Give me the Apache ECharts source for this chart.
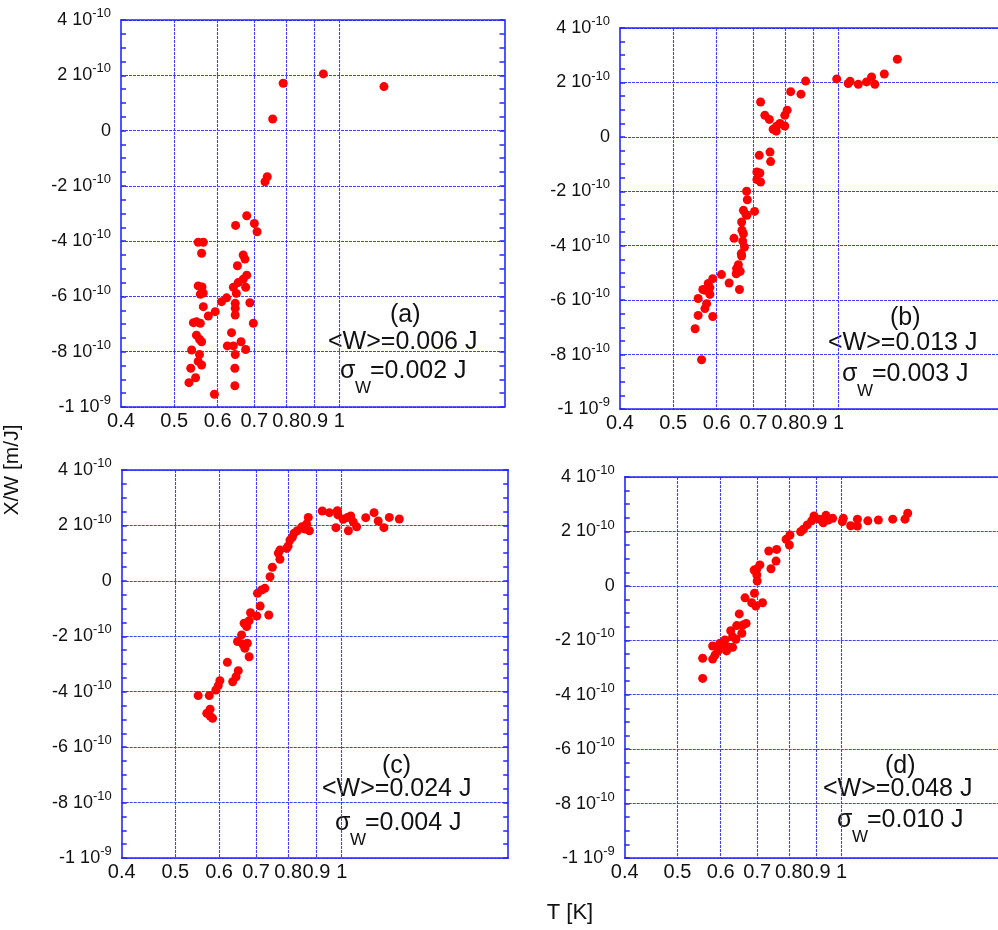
<!DOCTYPE html>
<html>
<head>
<meta charset="utf-8">
<script src="https://cdn.jsdelivr.net/npm/echarts@6/dist/echarts.min.js"></script>
<style>
  html, body { margin: 0; padding: 0; background: #fff; }
  #main { width: 998px; height: 930px; }
</style>
</head>
<body>
<div id="main"></div>
<script>
// X/W values are in units of 1e-10 m/J, T in K
// panel (a)
var tA = [0.935, 0.790, 1.206, 0.756, 0.739, 0.732, 0.678, 0.647, 0.700, 0.708,
    0.553, 0.565, 0.561, 0.668, 0.673, 0.652, 0.678, 0.668, 0.654, 0.641,
    0.675, 0.649, 0.553, 0.562, 0.558, 0.565, 0.623, 0.610, 0.687, 0.646,
    0.565, 0.594, 0.577, 0.646, 0.646, 0.542, 0.549, 0.558, 0.697, 0.549,
    0.556, 0.561, 0.636, 0.625, 0.641, 0.662, 0.538, 0.675, 0.646, 0.556,
    0.553, 0.561, 0.536, 0.645, 0.547, 0.532, 0.645, 0.592];
var xwA = [2.05, 1.71, 1.59, 0.42, -1.67, -1.85, -3.08, -3.43, -3.36, -3.66,
    -4.04, -4.04, -4.44, -4.50, -4.65, -4.89, -5.23, -5.38, -5.50, -5.67,
    -5.67, -5.89, -5.62, -5.66, -5.92, -5.88, -6.05, -6.19, -6.23, -6.25,
    -6.37, -6.55, -6.71, -6.43, -6.67, -6.95, -6.92, -6.97, -6.97, -7.40,
    -7.55, -7.64, -7.31, -7.79, -7.79, -7.64, -7.94, -7.92, -8.10, -8.10,
    -8.35, -8.48, -8.60, -8.60, -8.94, -9.12, -9.23, -9.54];
// panel (b)
var tB = [1.279, 1.211, 1.148, 1.164, 1.124, 1.086, 1.049, 1.041, 0.992, 0.871,
    0.818, 0.854, 0.721, 0.806, 0.798, 0.734, 0.748, 0.782, 0.798, 0.771,
    0.760, 0.770, 0.750, 0.717, 0.752, 0.710, 0.719, 0.710, 0.721, 0.680,
    0.682, 0.703, 0.671, 0.678, 0.681, 0.666, 0.667, 0.671, 0.669, 0.674,
    0.665, 0.666, 0.645, 0.657, 0.652, 0.655, 0.651, 0.662, 0.612, 0.632,
    0.660, 0.590, 0.579, 0.583, 0.571, 0.566, 0.583, 0.555, 0.575, 0.571,
    0.555, 0.590, 0.548, 0.563];
var xwB = [2.85, 2.31, 2.20, 1.93, 2.02, 1.93, 2.04, 1.96, 2.13, 2.05,
    1.66, 1.57, 1.28, 0.98, 0.79, 0.79, 0.64, 0.49, 0.40, 0.39,
    0.28, 0.21, -0.56, -0.68, -0.91, -1.29, -1.33, -1.57, -1.66, -2.00,
    -2.31, -2.74, -2.70, -2.85, -2.88, -3.13, -3.43, -3.56, -3.83, -4.05,
    -4.29, -4.38, -3.73, -4.70, -4.84, -4.97, -5.03, -4.94, -5.06, -5.37,
    -5.61, -5.21, -5.39, -5.54, -5.64, -5.61, -5.79, -5.94, -6.13, -6.31,
    -6.56, -6.60, -7.05, -8.19];
// panel (c)
var tC = [0.922, 0.950, 0.982, 0.984, 0.976, 1.006, 1.024, 1.028, 1.038, 1.049,
    1.064, 1.105, 1.144, 1.164, 1.192, 1.219, 1.271, 0.870, 0.864, 0.874,
    0.858, 0.847, 0.831, 0.820, 0.814, 0.806, 0.800, 0.795, 0.773, 0.768,
    0.773, 0.749, 0.742, 0.726, 0.716, 0.704, 0.712, 0.702, 0.738, 0.684,
    0.680, 0.666, 0.673, 0.659, 0.648, 0.662, 0.675, 0.668, 0.680, 0.650,
    0.644, 0.635, 0.621, 0.602, 0.598, 0.592, 0.576, 0.550, 0.570, 0.578,
    0.584, 0.578];
var xwC = [2.52, 2.46, 2.53, 2.38, 1.92, 2.22, 2.29, 1.81, 2.34, 2.13,
    1.95, 2.28, 2.46, 2.16, 1.92, 2.29, 2.23, 2.29, 2.05, 1.81,
    1.87, 1.95, 1.81, 1.72, 1.57, 1.47, 1.26, 1.17, 1.11, 1.00,
    0.78, 0.49, 0.15, -0.27, -0.33, -0.45, -0.91, -1.27, -1.23, -1.15,
    -1.44, -1.53, -1.65, -1.95, -2.19, -2.28, -2.25, -2.43, -2.74, -3.24,
    -3.46, -3.64, -2.94, -3.60, -3.78, -3.94, -4.14, -4.14, -4.78, -4.88,
    -4.96, -4.63];
// panel (d)
var tD = [1.322, 1.307, 1.241, 1.168, 1.117, 1.069, 1.069, 1.039, 1.007, 1.003,
    0.963, 0.945, 0.936, 0.925, 0.910, 0.890, 0.881, 0.865, 0.851, 0.841,
    0.804, 0.791, 0.802, 0.760, 0.735, 0.758, 0.742, 0.708, 0.699, 0.691,
    0.699, 0.700, 0.692, 0.716, 0.684, 0.696, 0.665, 0.649, 0.668, 0.659,
    0.642, 0.656, 0.626, 0.631, 0.640, 0.611, 0.607, 0.620, 0.615, 0.631,
    0.598, 0.594, 0.580, 0.586, 0.580, 0.556, 0.556];
var xwD = [2.67, 2.45, 2.45, 2.42, 2.39, 2.45, 2.20, 2.21, 2.48, 2.36,
    2.48, 2.42, 2.59, 2.32, 2.45, 2.57, 2.39, 2.24, 2.08, 1.99,
    1.87, 1.71, 1.50, 1.34, 1.28, 0.91, 0.63, 0.77, 0.62, 0.58,
    0.40, 0.18, -0.27, -0.62, -0.62, -0.74, -0.44, -1.03, -1.38, -1.44,
    -1.46, -1.74, -1.65, -1.87, -1.96, -1.99, -2.17, -2.26, -2.39, -2.26,
    -2.11, -2.38, -2.21, -2.54, -2.69, -2.66, -3.40];

var xLabelVals = [0.4, 0.5, 0.6, 0.7, 0.8, 0.9, 1];
var xGridVals = [0.5, 0.6, 0.7, 0.8, 0.9, 1];
var panelNames = ['(a)', '(b)', '(c)', '(d)'];
var meanW = ['0.006', '0.013', '0.024', '0.048'];
var sigmaW = ['0.002', '0.003', '0.004', '0.010'];

var FONT = 'Liberation Sans, Arial, Helvetica, sans-serif';
var BLUE = '#2626ff';
var GRIDBLUE = '#4040ff';

var grids = [
    {left: 121, top: 20, width: 383.5, height: 387},
    {left: 620, top: 28, width: 384, height: 381},
    {left: 121.7, top: 470, width: 386.5, height: 388},
    {left: 624.7, top: 477, width: 381, height: 381}
];
// annotation anchors (left x, y of the three lines)
var notes = [
    {x: 390, y: 315, x2: 328, y2: 342, x3: 340, y3: 371},
    {x: 890, y: 318, x2: 828, y2: 343, x3: 842, y3: 374},
    {x: 382, y: 766, x2: 322, y2: 789, x3: 335, y3: 823},
    {x: 885, y: 766, x2: 823, y2: 789, x3: 837, y3: 820}
];

function zip(xs, ys) {
    var out = [];
    for (var i = 0; i < xs.length; i++) out.push([xs[i], ys[i]]);
    return out;
}
var allData = [zip(tA, xwA), zip(tB, xwB), zip(tC, xwC), zip(tD, xwD)];

function yLabel(v) {
    if (v === 0) return '{b|0}';
    if (v === -10) return '{b|-1 10}{e|-9}';
    return '{b|' + v + ' 10}{e|-10}';
}

var myChart = echarts.init(document.getElementById('main'));

var option = {
    animation: false,
    backgroundColor: '#fff',
    grid: [],
    xAxis: [],
    yAxis: [],
    series: [],
    graphic: []
};

for (var i = 0; i < 4; i++) {
    var g = grids[i];
    option.grid.push({
        left: g.left, top: g.top, width: g.width, height: g.height,
        containLabel: false, outerBoundsMode: 'none'
    });
    // bottom x
    option.xAxis.push({
        gridIndex: i,
        type: 'log',
        logBase: 10,
        min: 0.4,
        max: 2,
        position: 'bottom',
        axisLine: {show: true, onZero: false, lineStyle: {color: BLUE, width: 1.6}},
        axisTick: {show: false, customValues: xGridVals},
        splitLine: {show: true, lineStyle: {color: GRIDBLUE, width: 1.1, type: [3, 1]}},
        minorTick: {show: false},
        minorSplitLine: {show: false},
        axisLabel: {
            show: true,
            customValues: xLabelVals,
            margin: 4,
            color: '#111',
            fontSize: 20,
            fontFamily: FONT,
            formatter: function (v) { return String(Math.round(v * 10) / 10); }
        }
    });
    // top x (frame only)
    option.xAxis.push({
        gridIndex: i,
        type: 'log',
        min: 0.4,
        max: 2,
        position: 'top',
        axisLine: {show: true, onZero: false, lineStyle: {color: BLUE, width: 1.6}},
        axisTick: {show: false},
        splitLine: {show: false},
        axisLabel: {show: false}
    });
    // left y
    option.yAxis.push({
        gridIndex: i,
        type: 'value',
        min: -10,
        max: 4,
        interval: 2,
        position: 'left',
        axisLine: {show: true, onZero: false, lineStyle: {color: BLUE, width: 1.6}},
        axisTick: {show: true, inside: true, length: 5, lineStyle: {color: BLUE, width: 1.5}},
        minorTick: {show: true, splitNumber: 4, length: 5, lineStyle: {color: BLUE, width: 1.5}},
        splitLine: {show: true, lineStyle: {color: GRIDBLUE, width: 1.1, type: [3, 1]}},
        axisLabel: {
            show: true,
            margin: 10,
            formatter: yLabel,
            rich: {
                b: {fontSize: 18, fontFamily: FONT, color: '#111', lineHeight: 26},
                e: {fontSize: 13, fontFamily: FONT, color: '#111', lineHeight: 13, verticalAlign: 'top'}
            }
        }
    });
    // right y (frame + ticks)
    option.yAxis.push({
        gridIndex: i,
        type: 'value',
        min: -10,
        max: 4,
        interval: 2,
        position: 'right',
        axisLine: {show: true, onZero: false, lineStyle: {color: BLUE, width: 1.6}},
        axisTick: {show: true, inside: true, length: 5, lineStyle: {color: BLUE, width: 1.5}},
        minorTick: {show: true, splitNumber: 4, length: 5, lineStyle: {color: BLUE, width: 1.5}},
        splitLine: {show: false},
        axisLabel: {show: false}
    });

    option.series.push({
        type: 'scatter',
        xAxisIndex: 2 * i,
        yAxisIndex: 2 * i,
        symbol: 'circle',
        symbolSize: 9,
        itemStyle: {color: '#ff0000', opacity: 1},
        data: allData[i]
    });

    var n = notes[i];
    option.graphic.push(
        {type: 'text', x: n.x, y: n.y, style: {text: panelNames[i], font: '25px ' + FONT, fill: '#111',
            align: 'left', verticalAlign: 'middle', textAlign: 'left', textVerticalAlign: 'middle'}},
        {type: 'text', x: n.x2, y: n.y2, style: {text: '<W>=' + meanW[i] + ' J', font: '25px ' + FONT, fill: '#111',
            align: 'left', verticalAlign: 'middle', textAlign: 'left', textVerticalAlign: 'middle'}},
        {type: 'text', x: n.x3, y: n.y3, style: {text: 'σ', font: '25px ' + FONT, fill: '#111',
            align: 'left', verticalAlign: 'middle', textAlign: 'left', textVerticalAlign: 'middle'}},
        {type: 'text', x: n.x3 + 15, y: n.y3 + 17, style: {text: 'W', font: '17px ' + FONT, fill: '#111',
            align: 'left', verticalAlign: 'middle', textAlign: 'left', textVerticalAlign: 'middle'}},
        {type: 'text', x: n.x3 + 30, y: n.y3, style: {text: '=' + sigmaW[i] + ' J', font: '25px ' + FONT, fill: '#111',
            align: 'left', verticalAlign: 'middle', textAlign: 'left', textVerticalAlign: 'middle'}}
    );
}

// axis titles
option.graphic.push(
    {type: 'text', x: 12, y: 470, rotation: Math.PI / 2,
        style: {text: 'X/W [m/J]', font: '21px ' + FONT, fill: '#111',
            align: 'center', verticalAlign: 'middle', textAlign: 'center', textVerticalAlign: 'middle'}},
    {type: 'text', x: 570, y: 913,
        style: {text: 'T [K]', font: '22px ' + FONT, fill: '#111',
            align: 'center', verticalAlign: 'middle', textAlign: 'center', textVerticalAlign: 'middle'}}
);

myChart.setOption(option);
</script>
</body>
</html>
